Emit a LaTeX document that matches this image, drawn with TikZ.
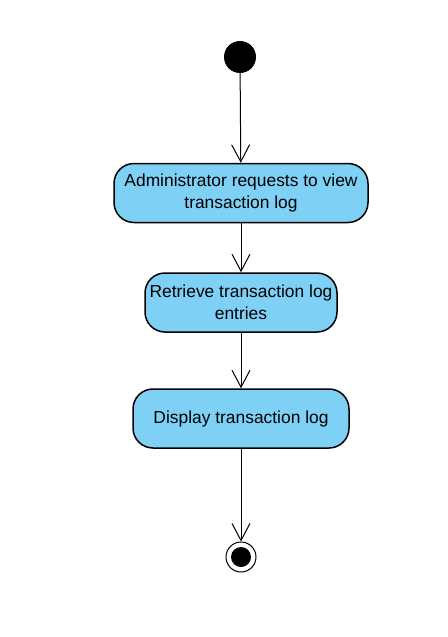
\documentclass[tikz,border=0pt]{standalone}
\usepackage{fontspec}
\setmainfont{Liberation Sans}
\usetikzlibrary{arrows.meta}
\definecolor{actfill}{RGB}{126,208,245}
\tikzset{
  act/.style={draw=black, line width=1.5pt, fill=actfill, rounded corners=20pt,
    align=center, font=\fontsize{17.4}{22}\selectfont, inner sep=0pt},
  flow/.style={draw=black, line width=1pt, -{Straight Barb[length=17pt,width=18pt]}},
}
\begin{document}
\begin{tikzpicture}[x=1pt,y=-1pt]
\useasboundingbox (0,0) rectangle (447,637);
\node[circle, fill=black, minimum size=32pt, inner sep=0pt] (start) at (240,57) {};
\node[act, minimum width=254pt, minimum height=59pt] (a1) at (241,193) {Administrator requests to view\\transaction log};
\node[act, minimum width=192pt, minimum height=59pt] (a2) at (241,302.5) {Retrieve transaction log\\entries};
\node[act, minimum width=216pt, minimum height=59pt] (a3) at (241,418.5) {Display transaction log};
\node[circle, draw=black, line width=1pt, minimum size=30pt, inner sep=0pt] (end) at (241,557) {};
\node[circle, fill=black, minimum size=20pt, inner sep=0pt] (endin) at (end) {};
\draw[flow] (start) -- (a1);
\draw[flow] (a1) -- (a2);
\draw[flow] (a2) -- (a3);
\draw[flow] (a3) -- (end);
\end{tikzpicture}
\end{document}
